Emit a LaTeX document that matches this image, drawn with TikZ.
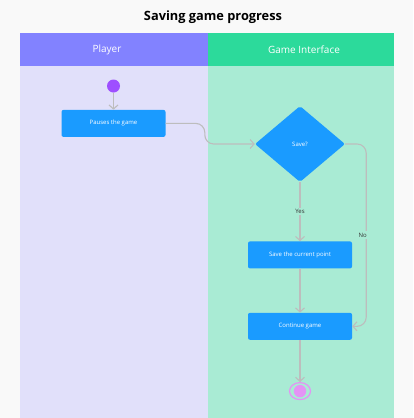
\documentclass[tikz,border=0pt]{standalone}
\usepackage{fontspec}
\setmainfont{Open Sans}
\usetikzlibrary{shapes.geometric, arrows.meta, positioning, calc}
\definecolor{pagebg}{HTML}{F9F9F9}
\definecolor{headplayer}{HTML}{8282FF}
\definecolor{laneplayer}{HTML}{E1E0FA}
\definecolor{headgame}{HTML}{2CDA9B}
\definecolor{lanegame}{HTML}{A9EBD4}
\definecolor{boxblue}{HTML}{1A9BFF}
\definecolor{linegray}{HTML}{BDBDBD}
\definecolor{startpurple}{HTML}{9E4FFF}
\definecolor{endpink}{HTML}{E493F5}

\begin{document}
\begin{tikzpicture}[
    x=1pt, y=1pt,
    node distance=18pt and 20pt,
    box/.style={fill=boxblue, rounded corners=2pt, minimum width=104pt, minimum height=27pt, inner sep=0pt, align=center, text=white, font=\fontsize{6}{7}\selectfont},
    decision/.style={diamond, fill=boxblue, rounded corners=2pt, minimum width=90pt, minimum height=76pt, inner sep=0pt, text=white, font=\fontsize{6}{7}\selectfont},
    lanehead/.style={text=white, font=\fontsize{10}{11}\selectfont},
    label/.style={fill=lanegame, inner sep=1.5pt, text=black!80, font=\fontsize{6}{7}\selectfont},
    arr/.style={-{Straight Barb[length=4pt, width=9pt]}, line width=1.1pt, draw=linegray}
]
% page and swimlanes
\fill[pagebg] (0,0) rectangle (413,-418);
\useasboundingbox (0,0) rectangle (413,-418);
\fill[laneplayer] (20,-66) rectangle (208,-418);
\fill[lanegame] (208,-66) rectangle (394,-418);
\fill[headplayer] (20,-33) rectangle (208,-66);
\fill[headgame] (208,-33) rectangle (394,-66);
\node[font=\fontsize{12.8}{14}\selectfont\bfseries] (title) at (213,-17) {Saving game progress};
\node[lanehead] (player) at (107,-49.5) {Player};
\node[lanehead] (game) at (304,-49.5) {Game Interface};

% nodes
\node[circle, fill=startpurple, minimum size=13pt, inner sep=0pt] (start) at (113.5,-86) {};
\node[box, below=17pt of start] (pauses) {Pauses the game};
\node[decision] (decide) at (300,-144) {Save?};
\node[box, below=59pt of decide] (savept) {Save the current point};
\node[box, below=44pt of savept] (cont) {Continue game};
\node[ellipse, draw=endpink, line width=1.2pt, minimum width=21pt, minimum height=17pt, inner sep=0pt, below=42pt of cont] (finish) {};
\fill[endpink] (finish) circle (6.2pt);

% connectors
\draw[arr] (start) -- (pauses);
\draw[arr, rounded corners=9pt] (pauses.east) -| ([xshift=-50pt]decide.west) -- (decide.west);
\draw[arr] (decide.south) -- node[label] {Yes} (savept.north);
\draw[arr, rounded corners=9pt] (decide.east) -| ([xshift=14pt]cont.east) -- (cont.east);
\node[label] (no) at ($(decide.east)!0.5!(cont.east) + (14pt,0)$) {No};
\draw[arr] (savept) -- (cont);
\draw[arr] (cont) -- (finish);
\end{tikzpicture}
\end{document}
